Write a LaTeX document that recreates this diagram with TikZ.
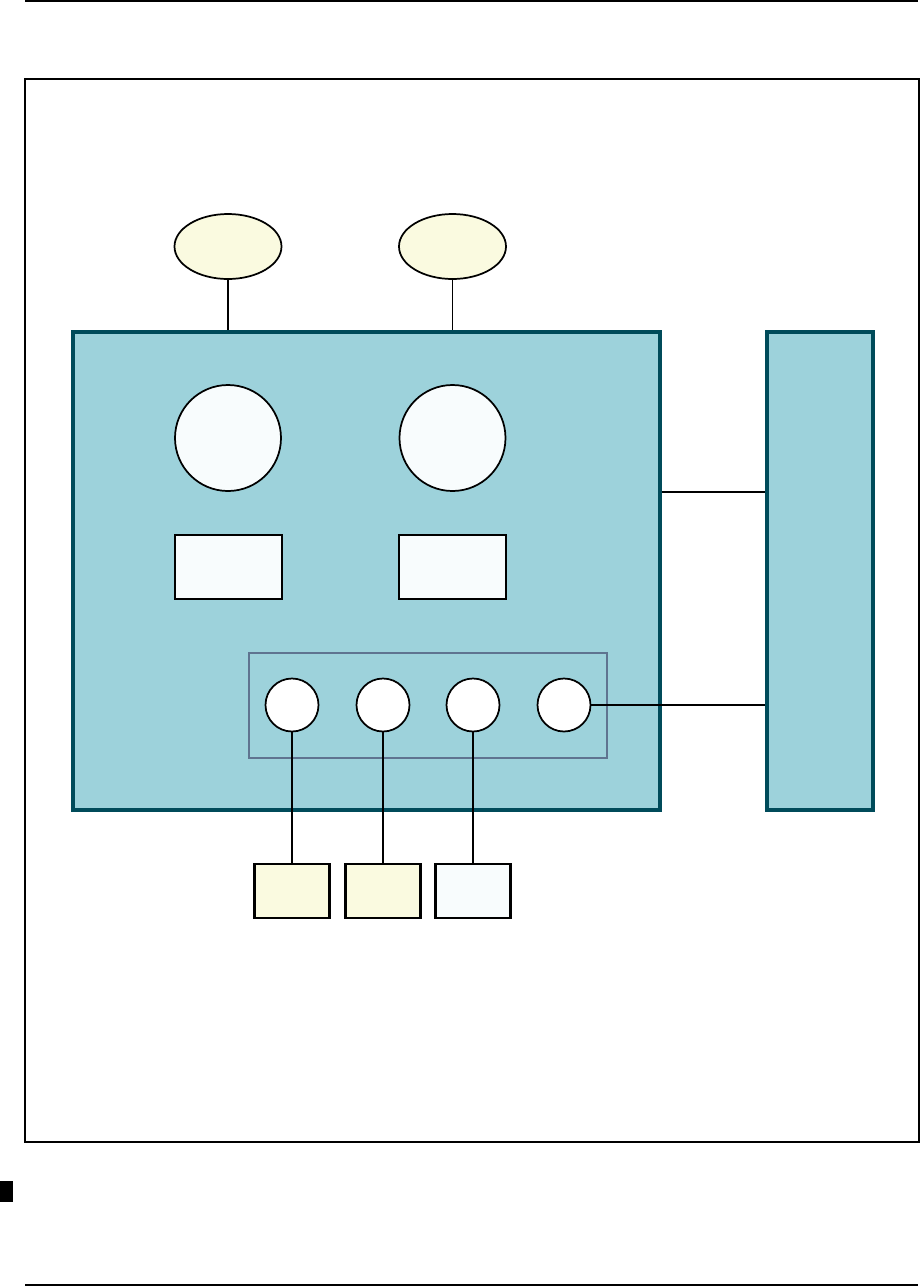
\documentclass[tikz,border=0pt]{standalone}
\usetikzlibrary{shapes.geometric}
\definecolor{tealfill}{HTML}{9DD2DB}
\definecolor{tealedge}{HTML}{004B5A}
\definecolor{paleyellow}{HTML}{FAFAE0}
\definecolor{palewhite}{HTML}{F8FCFD}
\definecolor{frameblue}{HTML}{5F7490}
\begin{document}
\begin{tikzpicture}[x=0.75pt,y=-0.75pt,
  block/.style={draw=tealedge,fill=tealfill,line width=2.8pt,inner sep=0pt},
  wire/.style={draw=black,line width=1pt},
  oval/.style={ellipse,draw=black,fill=paleyellow,line width=1.3pt,inner sep=0pt,minimum width=80.25pt,minimum height=48.75pt},
  bigdisc/.style={circle,draw=black,fill=palewhite,line width=1.3pt,inner sep=0pt,minimum size=79.5pt},
  panel/.style={rectangle,draw=black,fill=palewhite,line width=1.8pt,inner sep=0pt,minimum width=80.25pt,minimum height=48pt},
  port/.style={circle,draw=black,fill=white,line width=1.3pt,inner sep=0pt,minimum size=39.75pt},
  tag/.style={rectangle,draw=black,line width=1.8pt,inner sep=0pt,minimum width=56.25pt,minimum height=40.5pt},
]
\useasboundingbox (0,0) rectangle (921,1286);
% page rules and frame
\draw[line width=1.1pt] (25,1) -- (918,1);
\draw[line width=1.1pt] (25,1285) -- (918,1285);
\draw[line width=1.1pt] (25,79) rectangle (919,1142);
\fill[black] (0,1181) rectangle (13,1202);
% main blocks
\node[block,rectangle,minimum width=440.25pt,minimum height=358.5pt] (bigbox) at (366.5,571) {};
\node[block,rectangle,minimum width=79.5pt,minimum height=358.5pt] (rbox) at (820,571) {};
% ellipses
\node[oval] (e1) at (228,246.5) {};
\node[oval] (e2) at (452.5,246.5) {};
% big circles
\node[bigdisc] (bc1) at (228,438) {};
\node[bigdisc] (bc2) at (452.5,438) {};
% rectangles
\node[panel] (p1) at (228.5,567) {};
\node[panel] (p2) at (452.5,567) {};
% inner frame
\node[rectangle,draw=frameblue,line width=2pt,inner sep=0pt,minimum width=268.5pt,minimum height=78.75pt] (grp) at (428,705.5) {};
% ports
\node[port] (s1) at (292,705) {};
\node[port] (s2) at (383,705) {};
\node[port] (s3) at (473,705) {};
\node[port] (s4) at (564,705) {};
% bottom tags
\node[tag,fill=paleyellow] (t1) at (292,891) {};
\node[tag,fill=paleyellow] (t2) at (383,891) {};
\node[tag,fill=palewhite] (t3) at (473,891) {};
% connectors
\draw[wire] (e1.south) -- (e1.south |- bigbox.north);
\draw[wire] (e2.south) -- (e2.south |- bigbox.north);
\draw[wire] (bigbox.east |- bc1.south) -- (rbox.west |- bc1.south);
\draw[wire] (s4.east) -- (s4.east -| rbox.west);
\draw[wire] (s1.south) -- (t1.north);
\draw[wire] (s2.south) -- (t2.north);
\draw[wire] (s3.south) -- (t3.north);
\end{tikzpicture}
\end{document}
